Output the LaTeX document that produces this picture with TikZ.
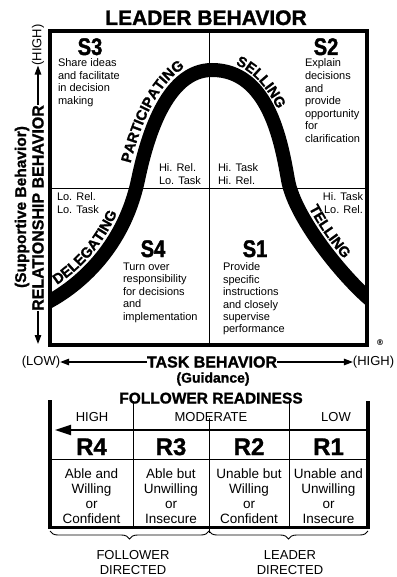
\documentclass[tikz,border=0pt]{standalone}
\usepackage{fontspec}
\setmainfont{Liberation Sans}
\newfontfamily\symfont{DejaVu Sans}
\newfontfamily\heavyfont{Liberation Sans}[FakeBold=1.2]
\newfontfamily\condfont{Liberation Sans}[FakeBold=1.6,FakeStretch=0.84]
\usetikzlibrary{decorations.text,decorations.pathreplacing,arrows.meta}
\newcommand{\myfs}[2]{\fontsize{#1}{#2}\selectfont}
\begin{document}
\begin{tikzpicture}[x=1pt,y=-1pt,
  every node/.style={inner sep=0pt,outer sep=0pt},
  lbl/.style={font=\myfs{11}{12.5},align=left,anchor=north west},
  lblr/.style={font=\myfs{11}{12.5},align=right,anchor=north east},
  slbl/.style={font=\condfont\bfseries\myfs{24}{24},anchor=base},
  rlbl/.style={font=\heavyfont\bfseries\myfs{24}{24},anchor=base},
  desc/.style={font=\myfs{13.5}{15},align=center,anchor=north},
  lvl/.style={font=\myfs{13}{13},anchor=base},
  axlbl/.style={font=\heavyfont\bfseries\myfs{16}{16}},
  axend/.style={font=\myfs{13}{13}},
  axarrow/.style={line width=1.3pt,-{Triangle[length=9pt,width=6.5pt]}},
  band/.style={line width=14pt},
  curvetext/.style={decorate,decoration={text along path,text align={left indent=#1}}},
  brc/.style={decorate,decoration={brace,mirror,amplitude=8pt},line width=0.9pt}
]
\useasboundingbox (0,0) rectangle (396,577);

% title
\node[font=\heavyfont\bfseries\myfs{21}{21},anchor=base] (title) at (206,25) {LEADER BEHAVIOR};

% bell curve
\begin{scope}
\clip (50,31) rectangle (367,345);
\draw[band] (39.5,307) -- (50,301) .. controls (70,290) and (122,255) .. (138,180)
  .. controls (146,142) and (165,70) .. (212,70)
  .. controls (268,70) and (281,140) .. (288,180)
  .. controls (295,220) and (350,286) .. (378,306) -- (386,312);
\end{scope}

% curve labels
\path[curvetext=15pt,decoration={text={|\heavyfont\bfseries\myfs{14.5}{14.5}|PARTICIPATING}}]
  (127,178) .. controls (136,138) and (158,60) .. (212,60);
\path[curvetext=24pt,decoration={text={|\heavyfont\bfseries\myfs{14.5}{14.5}|SELLING}}]
  (212,60) .. controls (272,60) and (291,138) .. (298,178);
\path[curvetext=14pt,decoration={text={|\heavyfont\bfseries\myfs{14.5}{14.5}|DELEGATING}}]
  (45,292) .. controls (65,281) and (113,250) .. (128,178);
\path[curvetext=32pt,decoration={text={|\heavyfont\bfseries\myfs{14.5}{14.5}|TELLING}}]
  (298,178) .. controls (305,218) and (356,278) .. (384,298);

% box and quadrants
\draw[line width=0.9pt] (209,31) -- (209,345);
\draw[line width=0.9pt] (50,188) -- (367,188);
\draw[line width=4pt] (50,31) rectangle (367,345);

% quadrant texts
\node[slbl] (s3) at (90,55) {S3};
\node[lbl] (s3t) at (58,59) {Share ideas\\and facilitate\\in decision\\making};
\node[slbl] (s2) at (326,55) {S2};
\node[lbl,font=\myfs{11}{12.6}] (s2t) at (305,59) {Explain\\decisions\\and\\provide\\opportunity\\for\\clarification};
\node[lbl] (hrlt) at (159,164) {Hi. Rel.\\Lo. Task};
\node[lbl] (hthr) at (218,164) {Hi. Task\\Hi. Rel.};
\node[lbl] (lrlt) at (57,193) {Lo. Rel.\\Lo. Task};
\node[lblr] (htlr) at (363,193) {Hi. Task\\Lo. Rel.};
\node[slbl] (s4) at (153,257) {S4};
\node[lbl,font=\myfs{11}{12.4}] (s4t) at (123,263) {Turn over\\responsibility\\for decisions\\and\\implementation};
\node[slbl] (s1) at (255,257) {S1};
\node[lbl,font=\myfs{11}{12.4}] (s1t) at (223,263) {Provide\\specific\\instructions\\and closely\\supervise\\performance};
\node[font=\symfont\bfseries\myfs{8}{8}] (mark) at (380,343) {®};

% vertical axis
\node[axlbl,rotate=90] (rel) at (38,208) {RELATIONSHIP BEHAVIOR};
\node[axend,rotate=90] (vhigh) at (38,45) {(HIGH)};
\coordinate (vlow) at (38,344);
\node[font=\heavyfont\bfseries\myfs{15.5}{15.5},rotate=90] (supp) at (22,207) {(Supportive Behavior)};
\draw[axarrow] (rel.east) -- (vhigh.west);
\draw[axarrow] (rel.west) -- (vlow);

% horizontal axis
\node[axlbl] (task) at (212,362) {TASK BEHAVIOR};
\node[axend] (hlow) at (41,362) {(LOW)};
\node[axend] (hhigh) at (373.5,362) {(HIGH)};
\draw[axarrow] (task.west) -- (hlow.east |- task.west);
\draw[axarrow] (task.east) -- (hhigh.west |- task.east);
\node[font=\heavyfont\bfseries\myfs{14}{14}] (guid) at (213,379) {(Guidance)};

% follower readiness
\node[font=\heavyfont\bfseries\myfs{15.5}{15.5},anchor=base] (fr) at (211,403.5) {FOLLOWER READINESS};
\coordinate (arrR) at (368,430);
\coordinate (arrL) at (55,430);
\draw[line width=0.9pt] (133,401) -- (133,527);
\draw[line width=0.9pt] (289,401) -- (289,527);
\draw[line width=0.9pt] (209,418) -- (209,533);
\draw[line width=0.9pt] (50,459) -- (368,459);
\draw[line width=2pt,-{Triangle[length=16pt,width=10pt]}] (arrR) -- (arrL);
\draw[line width=4pt] (50,400) -- (50,529);
\draw[line width=4pt] (368,401) -- (368,529);
\draw[line width=3pt] (50,527) -- (368,527);

\node[lvl] (high) at (92,421.5) {HIGH};
\node[lvl] (mod) at (211,421.5) {MODERATE};
\node[lvl] (low) at (336,421.5) {LOW};

\node[rlbl] (r4) at (91.5,455) {R4};
\node[rlbl] (r3) at (171,455) {R3};
\node[rlbl] (r2) at (249,455) {R2};
\node[rlbl] (r1) at (328.5,455) {R1};

\node[desc] (d4) at (91.5,468.5) {Able and\\Willing\\or\\Confident};
\node[desc] (d3) at (171,468.5) {Able but\\Unwilling\\or\\Insecure};
\node[desc] (d2) at (249,468.5) {Unable but\\Willing\\or\\Confident};
\node[desc] (d1) at (328.5,468.5) {Unable and\\Unwilling\\or\\Insecure};

% braces
\draw[brc] (50,531) -- (209,531);
\draw[brc] (209,531) -- (368,531);
\node[desc,font=\myfs{13}{15}] (fd) at (133,550.5) {FOLLOWER\\DIRECTED};
\node[desc,font=\myfs{13}{15}] (ld) at (290,550.5) {LEADER\\DIRECTED};
\end{tikzpicture}
\end{document}
